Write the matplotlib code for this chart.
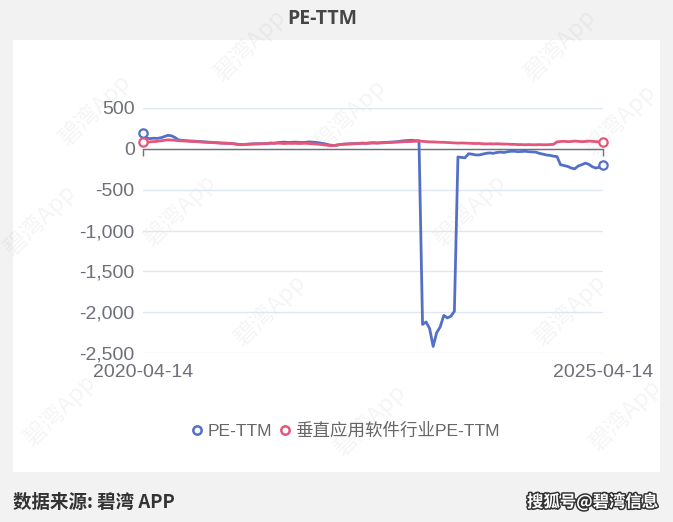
import matplotlib
matplotlib.use("Agg")
import matplotlib.pyplot as plt
import matplotlib.patheffects as pe
from matplotlib.patches import Rectangle
from matplotlib.lines import Line2D
import pandas as pd
import numpy as np

start_date = "2020-04-14"
end_date = "2025-04-14"
title = "PE-TTM"
series_names = ["PE-TTM", "垂直应用软件行业PE-TTM"]
y_ticks = [-2500, -2000, -1500, -1000, -500, 0, 500]
x_labels = ["2020-04-14", "2025-04-14"]

pe_ttm = [
    200, 130, 125, 130, 128, 135, 150, 165, 160, 140,
    110, 105, 100, 98, 95, 92, 88, 85, 82, 80,
    78, 75, 72, 70, 68, 65, 60, 55, 52, 55,
    58, 60, 62, 62, 63, 65, 70, 68, 75, 80,
    82, 78, 80, 82, 80, 78, 80, 85, 82, 78,
    72, 65, 55, 45, 40, 48, 55, 58, 60, 62,
    65, 68, 70, 68, 72, 75, 72, 75, 78, 80,
    82, 85, 88, 95, 100, 102, 105, 100, 100, -2150,
    -2120, -2200, -2420, -2250, -2180, -2040, -2070, -2050, -1990, -100,
    -105, -110, -60, -65, -75, -75, -65, -55, -50, -55,
    -45, -40, -45, -35, -30, -30, -35, -32, -30, -35,
    -38, -40, -55, -65, -75, -80, -90, -95, -195, -205,
    -215, -235, -245, -210, -195, -175, -190, -220, -235, -225,
    -204,
]

industry_pe = [
    80, 82, 85, 88, 92, 98, 105, 110, 108, 105,
    100, 98, 95, 92, 90, 88, 85, 82, 80, 78,
    75, 72, 70, 68, 68, 65, 60, 52, 50, 55,
    58, 60, 60, 62, 63, 62, 70, 68, 70, 68,
    65, 68, 66, 68, 65, 66, 68, 65, 62, 58,
    55, 50, 45, 38, 40, 48, 55, 58, 60, 62,
    62, 65, 68, 66, 70, 72, 70, 72, 75, 76,
    78, 80, 82, 85, 88, 88, 90, 92, 95, 92,
    88, 85, 85, 82, 80, 80, 78, 75, 72, 70,
    72, 70, 68, 66, 65, 66, 62, 60, 62, 60,
    62, 60, 58, 58, 55, 55, 52, 52, 50, 52,
    50, 50, 52, 50, 50, 52, 55, 85, 90, 92,
    88, 90, 95, 92, 88, 90, 95, 92, 88, 85,
    80,
]

dates = pd.date_range(start_date, end_date, periods=len(pe_ttm))

W, H = 673, 522
fig = plt.figure(figsize=(W / 100, H / 100), dpi=100, facecolor="#f2f2f2")

# white panel
fig.patches.append(Rectangle((13 / W, 1 - 472 / H), (660 - 13) / W, (472 - 40) / H,
                             transform=fig.transFigure, facecolor="white",
                             edgecolor="none", zorder=0))

# watermarks
wm_pos = [(95, 110), (180, 210), (270, 310), (370, 420), (350, 115), (470, 210),
          (570, 310), (625, 415), (560, 45), (250, 45), (60, 410), (620, 120), (40, 220)]
for (px, py) in wm_pos:
    fig.text(px / W, 1 - py / H, "碧湾App", rotation=45, ha="center", va="center",
             fontsize=17, color="#000000", alpha=0.045,
             family=["Noto Sans CJK SC", "DejaVu Sans"], zorder=1)

ax = fig.add_axes([143 / W, 1 - 353 / H, 460 / W, 245 / H])
ax.set_facecolor("none")
ax.set_zorder(2)

blue = "#5470c6"
red = "#e4577a"
ax.plot(dates, pe_ttm, color=blue, lw=2, marker="o", markevery=[0, len(pe_ttm) - 1],
        ms=6, mfc="white", mec=blue, mew=1.6, zorder=4, solid_joinstyle="round",
        clip_on=False)
ax.plot(dates, industry_pe, color=red, lw=2, marker="o", markevery=[0, len(industry_pe) - 1],
        ms=6, mfc="white", mec=red, mew=1.6, zorder=5, solid_joinstyle="round",
        clip_on=False)

ax.set_ylim(-2500, 500)
ax.set_xlim(dates[0], dates[-1])
ax.set_yticks(y_ticks)
ax.set_yticklabels([f"{v:,}" for v in y_ticks], family="Liberation Sans",
                   fontsize=14, color="#6e7079")
ax.tick_params(axis="y", length=0, pad=6)
ax.grid(axis="y", color="#e0e6f1", lw=1, zorder=0)
for s in ["top", "right", "left"]:
    ax.spines[s].set_visible(False)
ax.spines["bottom"].set_position(("data", 0))
ax.spines["bottom"].set_color("#6e7079")
ax.spines["bottom"].set_linewidth(1)
ax.spines["bottom"].set_zorder(3)
ax.set_xticks([dates[0], dates[-1]])
ax.set_xticklabels(["", ""])
ax.tick_params(axis="x", length=5, color="#6e7079", width=1)

for d, lab in zip([dates[0], dates[-1]], x_labels):
    ax.annotate(lab, xy=(d, 0), xycoords=("data", "axes fraction"),
                xytext=(0, -14), textcoords="offset points", ha="center", va="center",
                fontsize=14, color="#6e7079", family="Liberation Sans", annotation_clip=False)

fig.text(322 / W, 1 - 18.5 / H, title, ha="center", va="center", fontsize=14,
         fontweight="bold", color="#464646", family=["Open Sans", "DejaVu Sans"])

handles = [Line2D([], [], marker="o", ls="none", ms=6, mfc="white", mec=blue, mew=1.8),
           Line2D([], [], marker="o", ls="none", ms=6, mfc="white", mec=red, mew=1.8)]
leg = fig.legend(handles, series_names, loc="center", bbox_to_anchor=(345 / W, 1 - 431 / H),
                 ncol=2, frameon=False, handletextpad=0.2, columnspacing=0.3,
                 handlelength=0.8, prop={"family": ["Liberation Sans", "Noto Sans CJK SC"], "size": 12.6})
for t in leg.get_texts():
    t.set_color("#666666")

fig.text(13 / W, 1 - 502 / H, "数据来源: 碧湾 APP", ha="left", va="center", fontsize=13.3,
         fontweight="bold", color="#333333", family=["Noto Sans CJK SC", "DejaVu Sans"])
fig.text(658 / W, 1 - 502 / H, "搜狐号@碧湾信息", ha="right", va="center", fontsize=11.8,
         fontweight="bold", color="white", family=["Noto Sans CJK SC", "DejaVu Sans"],
         path_effects=[pe.withStroke(linewidth=2.2, foreground="#333333")])

fig.savefig("out.png", dpi=100, facecolor=fig.get_facecolor())
